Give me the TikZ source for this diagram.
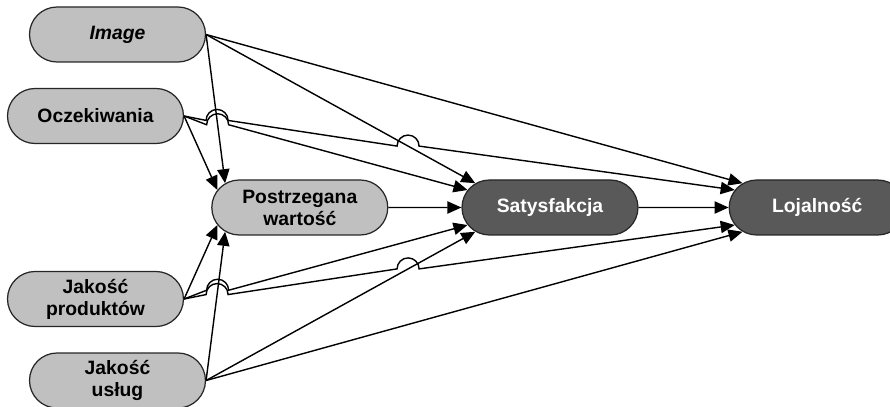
\documentclass[tikz,border=0pt]{standalone}
\usepackage{fontspec}
\setmainfont{Liberation Sans}
\usetikzlibrary{shapes.misc,arrows.meta,positioning,calc,intersections}
\definecolor{boxlight}{RGB}{192,192,192}
\definecolor{boxdark}{RGB}{89,89,89}
\newcommand{\hoprad}{0.22cm}

\begin{document}
\begin{tikzpicture}[
    box/.style={rounded rectangle, draw=black!85, line width=0.7pt, align=center, minimum width=3.66cm, minimum height=1.1cm, inner sep=2pt, font=\bfseries\fontsize{11}{12.5}\selectfont},
    lightbox/.style={box, fill=boxlight},
    darkbox/.style={box, fill=boxdark, text=white},
    arrow/.style={-{Triangle[length=8pt,width=7pt]}, line width=0.8pt}
]
    \useasboundingbox (-11,-3.99) rectangle (6.8,4.15);

    \node[darkbox] (sat) {Satysfakcja};
    \node[lightbox, left=1.46cm of sat] (post) {Postrzegana\\wartość};
    \node[darkbox, right=1.8cm of sat] (loj) {Lojalność};
    \node[lightbox] (img) at (-8.65,3.46) {\textit{Image}};
    \node[lightbox] (ocz) at (-9.09,1.83) {Oczekiwania};
    \node[lightbox] (prod) at (-9.09,-1.83) {Jakość\\produktów};
    \node[lightbox] (usl) at (-8.65,-3.46) {Jakość\\usług};

    \draw[arrow, name path=imgpost] (img.east) -- (post.162);
    \draw[arrow, name path=imgsat] (img.east) -- (sat.162);
    \draw[arrow] (img.east) -- (loj.162);
    \draw[arrow, name path=uslpost] (usl.east) -- (post.198);
    \draw[arrow, name path=uslsat] (usl.east) -- (sat.198);
    \draw[arrow] (usl.east) -- (loj.198);

    \path[name path=oczsat] (ocz.east) -- (sat.168);
    \path[name path=oczloj] (ocz.east) -- (loj.168);
    \path[name path=prodsat] (prod.east) -- (sat.192);
    \path[name path=prodloj] (prod.east) -- (loj.192);
    \path[name intersections={of=imgpost and oczsat, by=hopA}];
    \path[name intersections={of=imgpost and oczloj, by=hopB}];
    \path[name intersections={of=imgsat and oczloj, by=hopC}];
    \path[name intersections={of=uslpost and prodsat, by=hopD}];
    \path[name intersections={of=uslpost and prodloj, by=hopE}];
    \path[name intersections={of=uslsat and prodloj, by=hopF}];

    \draw[arrow] (ocz.east) -- (post.168);
    \draw[arrow] (ocz.east) -- ($(hopA)+(-\hoprad,0)$) arc[start angle=180, end angle=0, radius=\hoprad] -- (sat.168);
    \draw[arrow] (ocz.east) -- ($(hopB)+(-\hoprad,0)$) arc[start angle=180, end angle=0, radius=\hoprad]
        -- ($(hopC)+(-\hoprad,0)$) arc[start angle=180, end angle=0, radius=\hoprad] -- (loj.168);
    \draw[arrow] (prod.east) -- (post.192);
    \draw[arrow] (prod.east) -- ($(hopD)+(-\hoprad,0)$) arc[start angle=180, end angle=0, radius=\hoprad] -- (sat.192);
    \draw[arrow] (prod.east) -- ($(hopE)+(-\hoprad,0)$) arc[start angle=180, end angle=0, radius=\hoprad]
        -- ($(hopF)+(-\hoprad,0)$) arc[start angle=180, end angle=0, radius=\hoprad] -- (loj.192);

    \draw[arrow] (post) -- (sat);
    \draw[arrow] (sat) -- (loj);
\end{tikzpicture}
\end{document}
